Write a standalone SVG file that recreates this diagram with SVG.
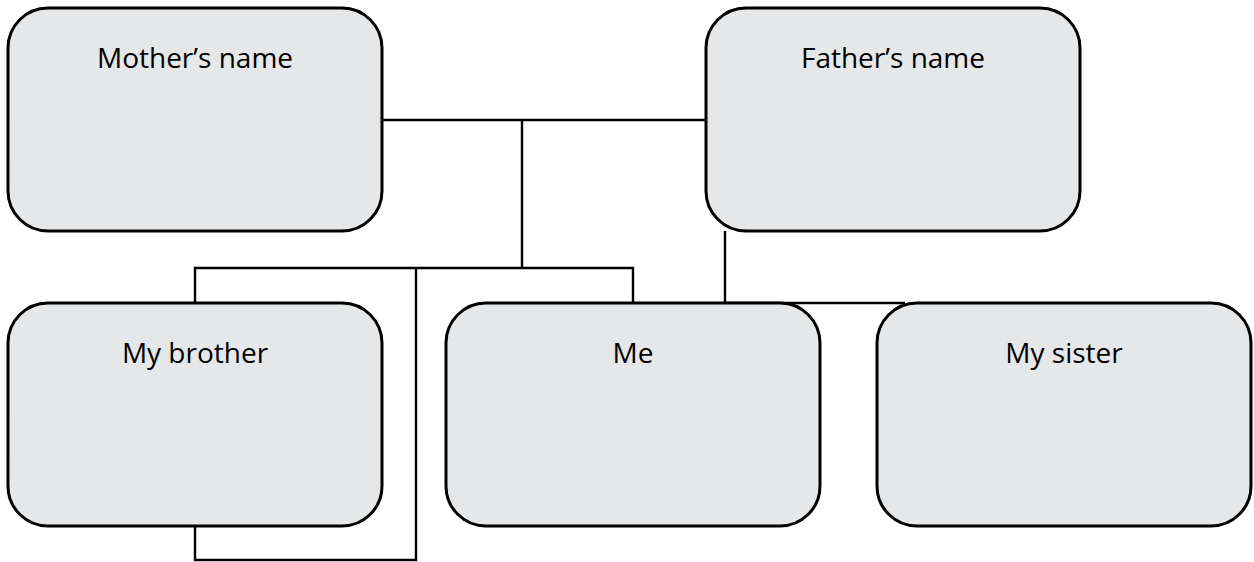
<svg xmlns="http://www.w3.org/2000/svg" width="1254" height="562" viewBox="0 0 1254 562">
<style>
.box{fill:#e6e7e8;stroke:#000;stroke-width:3}
.lbl{font-family:"Open Sans","Noto Sans",sans-serif;font-size:28px;fill:#000;text-anchor:middle}
.con{fill:none;stroke:#000;stroke-width:2.4}
</style>
<rect width="1254" height="562" fill="#fff"/>
<g id="connectors">
<path class="con" d="M382 120H706"/>
<path class="con" d="M522 120V268"/>
<path class="con" d="M195 303V268H633V303"/>
<path class="con" d="M416 268V560H195V526"/>
<path class="con" d="M725 231V303"/>
<path class="con" d="M725 303H905"/>
</g>
<g id="mother"><rect class="box" x="8" y="8" width="374" height="223" rx="40"/><text class="lbl" x="195" y="68">Mother’s name</text></g>
<g id="father"><rect class="box" x="706" y="8" width="374" height="223" rx="40"/><text class="lbl" x="893" y="68">Father’s name</text></g>
<g id="brother"><rect class="box" x="8" y="303" width="374" height="223" rx="40"/><text class="lbl" x="195" y="363">My brother</text></g>
<g id="me"><rect class="box" x="446" y="303" width="374" height="223" rx="40"/><text class="lbl" x="633" y="363">Me</text></g>
<g id="sister"><rect class="box" x="877" y="303" width="374" height="223" rx="40"/><text class="lbl" x="1064" y="363">My sister</text></g>
</svg>
